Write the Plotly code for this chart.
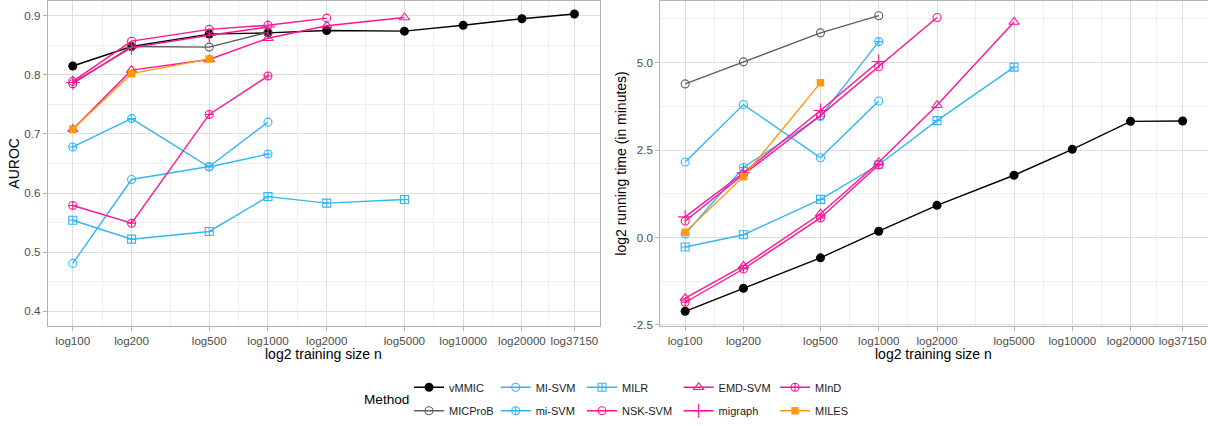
import math
import plotly.graph_objects as go

# ---------------- data ----------------
sizes = [100, 200, 500, 1000, 2000, 5000, 10000, 20000, 37150]
tick_labels = ["log100", "log200", "log500", "log1000", "log2000",
               "log5000", "log10000", "log20000", "log37150"]

methods = ["vMMIC", "MICProB", "MI-SVM", "mi-SVM", "MILR",
           "NSK-SVM", "EMD-SVM", "migraph", "MInD", "MILES"]

n_vMMIC = sizes
auroc_vMMIC = [0.815, 0.848, 0.869, 0.871, 0.875, 0.874, 0.884, 0.895, 0.903]
time_vMMIC = [-2.11, -1.45, -0.58, 0.18, 0.92, 1.78, 2.52, 3.32, 3.33]

n_MICProB = [100, 200, 500, 1000]
auroc_MICProB = [0.785, 0.848, 0.847, 0.872]
time_MICProB = [4.39, 5.02, 5.85, 6.34]

n_MISVM = [100, 200, 500, 1000]
auroc_MISVM = [0.481, 0.623, 0.645, 0.720]
time_MISVM = [2.16, 3.80, 2.28, 3.90]

n_miSVM = [100, 200, 500, 1000]
auroc_miSVM = [0.678, 0.726, 0.644, 0.666]
time_miSVM = [0.10, 2.00, 3.46, 5.60]

n_MILR = [100, 200, 500, 1000, 2000, 5000]
auroc_MILR = [0.554, 0.522, 0.535, 0.594, 0.583, 0.589]
time_MILR = [-0.27, 0.08, 1.09, 2.08, 3.34, 4.87]

n_NSK = [100, 200, 500, 1000, 2000]
auroc_NSK = [0.789, 0.857, 0.877, 0.884, 0.896]
time_NSK = [0.47, 1.80, 3.49, 4.88, 6.29]

n_EMD = [100, 200, 500, 1000, 2000, 5000]
auroc_EMD = [0.708, 0.808, 0.826, 0.862, 0.883, 0.897]
time_EMD = [-1.73, -0.81, 0.68, 2.15, 3.78, 6.16]

n_migraph = [100, 200, 500, 1000]
auroc_migraph = [0.787, 0.846, 0.867, 0.881]
time_migraph = [0.59, 1.85, 3.63, 5.03]

n_MInD = [100, 200, 500, 1000]
auroc_MInD = [0.579, 0.549, 0.733, 0.798]
time_MInD = [-1.85, -0.90, 0.56, 2.08]

n_MILES = [100, 200, 500]
auroc_MILES = [0.708, 0.802, 0.827]
time_MILES = [0.15, 1.74, 4.42]

auroc_ticks = [0.4, 0.5, 0.6, 0.7, 0.8, 0.9]
time_ticks = [-2.5, 0.0, 2.5, 5.0]

# ---------------- styling ----------------
BLUE = "#33B6F5"
PINK = "#FF1493"
series = {
    "vMMIC":   (n_vMMIC, auroc_vMMIC, time_vMMIC, "#000000", "circle", 9),
    "MICProB": (n_MICProB, auroc_MICProB, time_MICProB, "#5E5E5E", "circle-open", 8),
    "MI-SVM":  (n_MISVM, auroc_MISVM, time_MISVM, BLUE, "circle-open", 8),
    "mi-SVM":  (n_miSVM, auroc_miSVM, time_miSVM, BLUE, "circle-cross-open", 8),
    "MILR":    (n_MILR, auroc_MILR, time_MILR, BLUE, "square-cross-open", 8),
    "NSK-SVM": (n_NSK, auroc_NSK, time_NSK, PINK, "circle-open", 8),
    "EMD-SVM": (n_EMD, auroc_EMD, time_EMD, PINK, "triangle-up-open", 9),
    "migraph": (n_migraph, auroc_migraph, time_migraph, PINK, "cross-thin-open", 10),
    "MInD":    (n_MInD, auroc_MInD, time_MInD, PINK, "circle-cross-open", 8),
    "MILES":   (n_MILES, auroc_MILES, time_MILES, "#FF9912", "square", 7.5),
}
legend_of = {"vMMIC": "legend", "MICProB": "legend",
             "MI-SVM": "legend2", "mi-SVM": "legend2",
             "MILR": "legend3", "NSK-SVM": "legend3",
             "EMD-SVM": "legend4", "migraph": "legend4",
             "MInD": "legend5", "MILES": "legend5"}

W, H = 1208, 426
FONT = "Liberation Sans, Arial, sans-serif"

fig = go.Figure()
for m in methods:
    n, a, t, col, sym, sz = series[m]
    filled = not sym.endswith("open")
    mk = dict(symbol=sym, size=sz, color=col,
              line=dict(color=col, width=0 if filled else 1.1))
    for panel, yv in ((1, a), (2, t)):
        fig.add_trace(go.Scatter(
            x=n, y=yv, mode="lines+markers", name=m,
            xaxis="x" if panel == 1 else "x2",
            yaxis="y" if panel == 1 else "y2",
            legend=legend_of[m], legendgroup=m, showlegend=(panel == 1),
            line=dict(color=col, width=1.4), marker=mk))

# axes
lo, hi = math.log10(sizes[0]), math.log10(sizes[-1])
pad = 0.05 * (hi - lo)
xrange = [lo - pad, hi + pad]
minor_x = [math.sqrt(sizes[i] * sizes[i + 1]) for i in range(len(sizes) - 1)]

ydom = [1 - 330.7 / H, 1 - 1.0 / H]
common = dict(showline=True, mirror=True, linecolor="#B3B3B3", linewidth=1,
              showgrid=True, gridcolor="#DEDEDE", gridwidth=1,
              ticks="outside", ticklen=4, tickcolor="#B3B3B3", tickwidth=1,
              tickfont=dict(family=FONT, size=11.6, color="#4D4D4D"),
              zeroline=False)

fig.update_layout(
    xaxis=dict(type="log", range=xrange, domain=[47.7 / W, 599.5 / W],
               tickvals=sizes, ticktext=tick_labels, anchor="y",
               minor=dict(tickvals=minor_x, showgrid=True, gridcolor="#EEEEEE",
                          gridwidth=1, ticks=""), **common),
    yaxis=dict(range=[0.375, 0.925], domain=ydom, anchor="x",
               tickvals=auroc_ticks, ticktext=[f"{v:.1f}" for v in auroc_ticks],
               minor=dict(tickvals=[0.45, 0.55, 0.65, 0.75, 0.85], showgrid=True,
                          gridcolor="#EEEEEE", gridwidth=1, ticks=""), **common),
    xaxis2=dict(type="log", range=xrange, domain=[660.3 / W, 1207.5 / W],
                tickvals=sizes, ticktext=tick_labels, anchor="y2",
                minor=dict(tickvals=minor_x, showgrid=True, gridcolor="#EEEEEE",
                           gridwidth=1, ticks=""), **common),
    yaxis2=dict(range=[-2.53, 6.76], domain=ydom, anchor="x2",
                tickvals=time_ticks, ticktext=[f"{v:.1f}" for v in time_ticks],
                minor=dict(tickvals=[-1.25, 1.25, 3.75, 6.25], showgrid=True,
                           gridcolor="#EEEEEE", gridwidth=1, ticks=""), **common),
)

# legends: one per column, two rows each
leg_text_x = [449, 535.7, 622, 718.6, 815]
names = ["legend", "legend2", "legend3", "legend4", "legend5"]
for nm, tx in zip(names, leg_text_x):
    fig.update_layout({nm: dict(x=(tx - 40) / W, y=1 - 405 / H, xanchor="left",
                                yanchor="middle", orientation="v",
                                bgcolor="rgba(0,0,0,0)", borderwidth=0,
                                tracegroupgap=4.4, itemwidth=30,
                                font=dict(family=FONT, size=11, color="#1A1A1A"))})

ann = [
    dict(text="AUROC", x=14 / W, y=1 - 166 / H, textangle=-90,
         font=dict(family=FONT, size=14, color="#000000")),
    dict(text="log2 running time (in minutes)", x=621 / W, y=1 - 166 / H,
         textangle=-90, font=dict(family=FONT, size=14, color="#000000")),
    dict(text="log2 training size n", x=(47.7 + 599.5) / 2 / W, y=1 - 359 / H,
         font=dict(family=FONT, size=14, color="#000000")),
    dict(text="log2 training size n", x=(660.3 + 1207.5) / 2 / W, y=1 - 359 / H,
         font=dict(family=FONT, size=14, color="#000000")),
    dict(text="Method", x=386 / W, y=1 - 405.5 / H,
         font=dict(family=FONT, size=13.6, color="#000000")),
]
for a in ann:
    a.update(xref="paper", yref="paper", showarrow=False,
             xanchor="center", yanchor="middle")
fig.update_layout(annotations=ann, width=W, height=H,
                  margin=dict(l=0, r=0, t=0, b=0),
                  paper_bgcolor="white", plot_bgcolor="white",
                  font=dict(family=FONT), showlegend=True)

fig.write_html("out.html")
